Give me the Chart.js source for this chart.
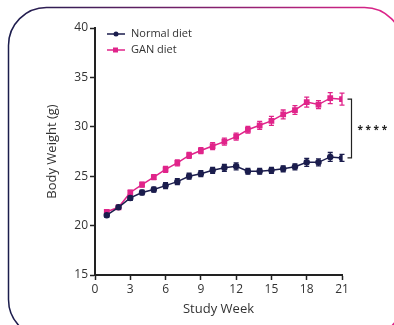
<!DOCTYPE html>
<html>
<head>
<meta charset="utf-8">
<script src="https://cdn.jsdelivr.net/npm/chart.js@4/dist/chart.umd.min.js"></script>
<style>
  html, body { margin: 0; padding: 0; background: #fff; }
  #wrap { width: 394px; height: 325px; position: relative; }
</style>
</head>
<body>
<div id="wrap"><canvas id="weightChart" width="394" height="325"></canvas></div>
<script>
const weeks = [1, 2, 3, 4, 5, 6, 7, 8, 9, 10, 11, 12, 13, 14, 15, 16, 17, 18, 19, 20, 21];
const normalDiet = [21.05, 21.85, 22.8, 23.35, 23.65, 24.05, 24.45, 25.0, 25.25, 25.6, 25.85, 26.0, 25.5, 25.5, 25.6, 25.75, 25.95, 26.4, 26.4, 26.95, 26.85];
const ganDiet = [21.4, 21.85, 23.35, 24.15, 24.9, 25.7, 26.35, 27.1, 27.6, 28.05, 28.5, 29.0, 29.7, 30.15, 30.6, 31.25, 31.7, 32.5, 32.25, 32.9, 32.8];
const normalErr = [0.2, 0.2, 0.25, 0.25, 0.25, 0.3, 0.3, 0.3, 0.3, 0.3, 0.35, 0.35, 0.3, 0.3, 0.3, 0.3, 0.3, 0.4, 0.35, 0.45, 0.35];
const ganErr = [0.2, 0.2, 0.25, 0.25, 0.25, 0.3, 0.3, 0.3, 0.3, 0.35, 0.35, 0.35, 0.35, 0.4, 0.45, 0.45, 0.45, 0.5, 0.4, 0.55, 0.6];
const seriesNames = ["Normal diet", "GAN diet"];
const sigLabel = "* * * *";

const NAVY = "#1b1d4d";
const PINK = "#e0248a";
const TEXT = "#333";
const FONT = "'Open Sans', sans-serif";

function toPoints(vals) {
    return weeks.map((w, i) => ({ x: w, y: vals[i] }));
}

// card border, error bars, legend and significance bracket
const extras = {
    id: "extras",
    beforeDraw(chart) {
        const ctx = chart.ctx;
        ctx.save();
        ctx.fillStyle = "#fff";
        ctx.fillRect(0, 0, chart.width, chart.height);
        const g = ctx.createLinearGradient(8, 0, 394, 0);
        g.addColorStop(0, NAVY);
        g.addColorStop(1, PINK);
        ctx.strokeStyle = g;
        ctx.lineWidth = 1.5;
        ctx.beginPath();
        ctx.roundRect(8.5, 7.5, 394, 330, 38);
        ctx.stroke();
        ctx.restore();
    },
    beforeDatasetsDraw(chart) {
        const ctx = chart.ctx;
        const xs = chart.scales.x, ys = chart.scales.y;
        const errs = [normalErr, ganErr];
        ctx.save();
        chart.data.datasets.forEach((ds, di) => {
            ctx.strokeStyle = ds.borderColor;
            ctx.lineWidth = 1.3;
            ds.data.forEach((p, i) => {
                const x = xs.getPixelForValue(p.x);
                const top = ys.getPixelForValue(p.y + errs[di][i]);
                const bot = ys.getPixelForValue(p.y - errs[di][i]);
                ctx.beginPath();
                ctx.moveTo(x, top); ctx.lineTo(x, bot);
                ctx.moveTo(x - 2.5, top); ctx.lineTo(x + 2.5, top);
                ctx.moveTo(x - 2.5, bot); ctx.lineTo(x + 2.5, bot);
                ctx.stroke();
            });
        });
        ctx.restore();
    },
    afterDraw(chart) {
        const ctx = chart.ctx;
        const xs = chart.scales.x, ys = chart.scales.y;
        ctx.save();
        // legend
        chart.data.datasets.forEach((ds, i) => {
            const y = 34 + i * 16;
            ctx.strokeStyle = ds.borderColor;
            ctx.fillStyle = ds.borderColor;
            ctx.lineWidth = 1.5;
            ctx.beginPath();
            ctx.moveTo(107, y); ctx.lineTo(125, y);
            ctx.stroke();
            if (ds.pointStyle === "rect") {
                ctx.fillRect(113, y - 2.5, 5, 5);
            } else {
                ctx.beginPath();
                ctx.arc(116, y, 2.5, 0, Math.PI * 2);
                ctx.fill();
            }
            ctx.fillStyle = TEXT;
            ctx.font = "11px " + FONT;
            ctx.textBaseline = "middle";
            ctx.fillText(ds.label, 131, y);
        });
        // significance bracket
        const last = weeks.length - 1;
        const bx = xs.getPixelForValue(weeks[last]) + 9.5;
        const yTop = ys.getPixelForValue(ganDiet[last]);
        const yBot = ys.getPixelForValue(normalDiet[last]);
        ctx.strokeStyle = "#222";
        ctx.lineWidth = 1.2;
        ctx.beginPath();
        ctx.moveTo(bx - 4, yTop); ctx.lineTo(bx, yTop); ctx.lineTo(bx, yBot); ctx.lineTo(bx - 4, yBot);
        ctx.stroke();
        ctx.fillStyle = "#222";
        ctx.font = "bold 10px " + FONT;
        ctx.textBaseline = "middle";
        ctx.fillText(sigLabel, bx + 6, (yTop + yBot) / 2 + 2);
        ctx.restore();
    }
};

new Chart(document.getElementById("weightChart"), {
    type: "line",
    data: {
        datasets: [
            {
                label: seriesNames[0],
                data: toPoints(normalDiet),
                borderColor: NAVY,
                backgroundColor: NAVY,
                borderWidth: 1.5,
                pointStyle: "circle",
                pointRadius: 2.5,
                tension: 0
            },
            {
                label: seriesNames[1],
                data: toPoints(ganDiet),
                borderColor: PINK,
                backgroundColor: PINK,
                borderWidth: 1.5,
                pointStyle: "rect",
                pointRadius: 3,
                tension: 0
            }
        ]
    },
    options: {
        responsive: false,
        animation: false,
        layout: { padding: { left: 0, top: 28, right: 52, bottom: 0 } },
        plugins: {
            legend: { display: false },
            tooltip: { enabled: false }
        },
        scales: {
            x: {
                type: "linear",
                min: 0,
                max: 21,
                afterFit(scale) { scale.height = 50; },
                ticks: { stepSize: 3, color: TEXT, font: { family: FONT, size: 12 }, padding: 2 },
                grid: { drawOnChartArea: false, drawTicks: true, tickLength: 5, tickColor: "#222", tickWidth: 1.5 },
                border: { display: true, color: "#222", width: 2 },
                title: { display: true, text: "Study Week", color: TEXT, font: { family: FONT, size: 13 }, padding: { top: 0, bottom: 8 } }
            },
            y: {
                min: 15,
                max: 40,
                afterFit(scale) { scale.width = 95; },
                ticks: { stepSize: 5, color: TEXT, font: { family: FONT, size: 12 }, padding: 2 },
                grid: { drawOnChartArea: false, drawTicks: true, tickLength: 5, tickColor: "#222", tickWidth: 1.5 },
                border: { display: true, color: "#222", width: 2 },
                title: { display: true, text: "Body Weight (g)", color: TEXT, font: { family: FONT, size: 13 }, padding: { top: 44, bottom: 0 } }
            }
        }
    },
    plugins: [extras]
});
</script>
</body>
</html>
